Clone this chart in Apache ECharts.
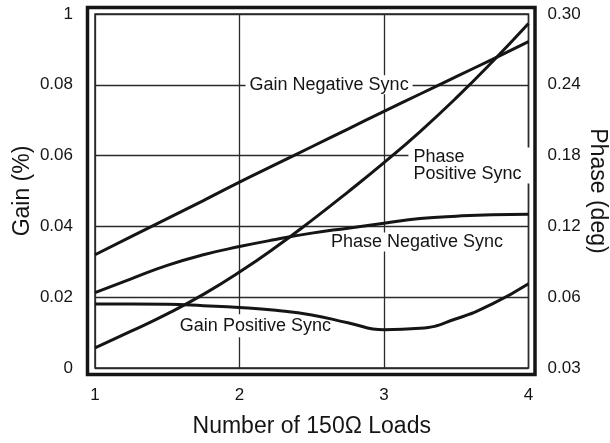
<!DOCTYPE html>
<html>
<head>
<meta charset="utf-8">
<script src="https://cdn.jsdelivr.net/npm/echarts@6/dist/echarts.min.js"></script>
<style>
  html, body { margin: 0; padding: 0; background: #fff; }
  #chart { width: 610px; height: 443px; }
</style>
</head>
<body>
<div id="chart"></div>
<script>
// number of 150 ohm loads
const loads = [1, 1.25, 1.5, 1.75, 2, 2.25, 2.5, 2.75, 3, 3.25, 3.5, 3.75, 4]
// gain (%), left axis
const gainNegative = [0.032, 0.0371, 0.0422, 0.0473, 0.0525, 0.0575, 0.0625, 0.0675, 0.0725, 0.0774, 0.0823, 0.0872, 0.0922]
const gainPositive = [0.0181, 0.0181, 0.018, 0.0176, 0.0171, 0.0163, 0.015, 0.0128, 0.0108, 0.0112, 0.0139, 0.0181, 0.0238]
// phase (deg), right axis
const phasePositive = [0.0171, 0.0312, 0.0459, 0.0624, 0.0813, 0.1023, 0.1251, 0.1491, 0.174, 0.2004, 0.2289, 0.2595, 0.2919]
const phaseNegative = [0.0639, 0.0756, 0.087, 0.096, 0.1029, 0.1089, 0.1143, 0.1185, 0.1227, 0.1266, 0.1287, 0.1299, 0.1302]

const FONT = '"Liberation Sans", Arial, sans-serif'
const INK = '#151515'

const chart = echarts.init(document.getElementById('chart'), null, { renderer: 'canvas' })

function pairs(ys) {
  return loads.map((x, i) => [x, ys[i]])
}

function lineSeries(name, ys, axis) {
  return {
    name, type: 'line', yAxisIndex: axis, z: 3,
    data: pairs(ys), smooth: 0.5, showSymbol: false, symbol: 'none',
    lineStyle: { color: INK, width: 3 }
  }
}

const option = {
  animation: false,
  grid: {
    left: 95, right: 81.5, top: 14, bottom: 75, outerBoundsMode: 'none', containLabel: false,
    show: true, borderColor: '#222', borderWidth: 1.5
  },
  xAxis: {
    type: 'value', min: 1, max: 4, interval: 1,
    name: 'Number of 150Ω Loads', nameLocation: 'middle', nameGap: 47, nameMoveOverlap: false,
    nameTextStyle: { fontFamily: FONT, fontSize: 23, color: INK },
    axisLine: { show: false }, axisTick: { show: false },
    axisLabel: { margin: 19, fontFamily: FONT, fontSize: 17, color: INK },
    splitLine: { show: true, lineStyle: { color: '#2a2a2a', width: 1.3 } }
  },
  yAxis: [{
    type: 'value', min: 0, max: 0.1, interval: 0.02,
    name: 'Gain (%)', nameLocation: 'middle', nameGap: 61, nameMoveOverlap: false,
    nameTextStyle: { fontFamily: FONT, fontSize: 23, color: INK },
    axisLine: { show: false }, axisTick: { show: false },
    axisLabel: {
      margin: 22, fontFamily: FONT, fontSize: 17, color: INK,
      formatter: v => v === 0 ? '0' : (v > 0.099 ? '1' : v.toFixed(2))
    },
    splitLine: { show: true, lineStyle: { color: '#2a2a2a', width: 1.3 } }
  }, {
    type: 'value', min: 0, max: 0.3, interval: 0.06, position: 'right',
    name: 'Phase (deg)', nameLocation: 'middle', nameGap: 57, nameRotate: -90, nameMoveOverlap: false,
    nameTextStyle: { fontFamily: FONT, fontSize: 23, color: INK },
    axisLine: { show: false }, axisTick: { show: false },
    axisLabel: {
      margin: 19, fontFamily: FONT, fontSize: 17, color: INK,
      formatter: v => v === 0 ? '0.03' : v.toFixed(2)
    },
    splitLine: { show: false }
  }],
  series: [
    lineSeries('Gain Negative Sync', gainNegative, 0),
    lineSeries('Gain Positive Sync', gainPositive, 0),
    lineSeries('Phase Positive Sync', phasePositive, 1),
    lineSeries('Phase Negative Sync', phaseNegative, 1)
  ]
}

chart.setOption(option)

// curve labels, anchored in data space (left axis units)
const notes = [
  { text: 'Gain Negative Sync', at: [2.62, 0.08], align: 'center', pad: [1, 4] },
  { text: 'Phase\nPositive Sync', at: [3.169, 0.0572], align: 'left', pad: [1, 14, 1, 5] },
  { text: 'Phase Negative Sync', at: [3.228, 0.0356], align: 'center', pad: [1, 4] },
  { text: 'Gain Positive Sync', at: [2.11, 0.0119], align: 'center', pad: [3, 4] }
]

const graphics = notes.map(n => {
  const p = chart.convertToPixel({ xAxisIndex: 0, yAxisIndex: 0 }, n.at)
  return {
    type: 'text', x: p[0], y: p[1], z: 1,
    style: {
      text: n.text, font: '18px ' + FONT, fill: INK, lineHeight: 17,
      align: n.align, verticalAlign: 'middle',
      backgroundColor: '#fff', padding: n.pad
    }
  }
})

// double frame: thick outer border round the plot
graphics.push({
  type: 'rect', z: 5, silent: true,
  shape: { x: 87.5, y: 7.5, width: 447.5, height: 367 },
  style: { fill: 'none', stroke: INK, lineWidth: 3.5 }
})

chart.setOption({ graphic: graphics })
</script>
</body>
</html>
